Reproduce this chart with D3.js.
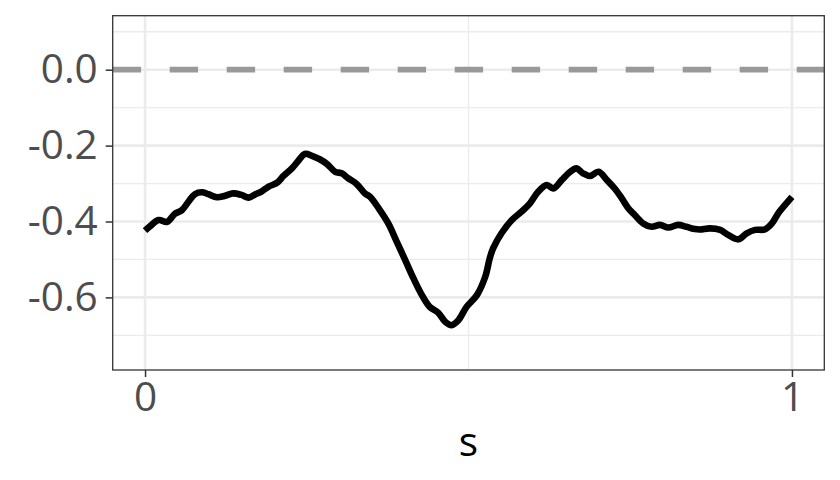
<!DOCTYPE html>
<html>
<head>
<meta charset="utf-8">
<script src="https://cdn.jsdelivr.net/npm/d3@7"></script>
<style>
  html, body { margin: 0; padding: 0; background: #fff; }
  svg { display: block; font-family: "Open Sans", sans-serif; }
</style>
</head>
<body>
<svg id="chart" width="840" height="480"></svg>
<script>
// ---- data ----
const sValues = [0.000,0.008,0.021,0.034,0.046,0.057,0.067,0.077,0.088,0.098,0.111,0.124,0.136,0.149,0.160,0.170,0.180,0.191,0.204,0.214,0.227,0.237,0.247,0.258,0.270,0.281,0.294,0.304,0.314,0.327,0.340,0.348,0.361,0.376,0.389,0.402,0.415,0.428,0.440,0.453,0.464,0.474,0.484,0.497,0.513,0.526,0.533,0.538,0.551,0.567,0.582,0.595,0.608,0.621,0.631,0.644,0.657,0.667,0.677,0.688,0.701,0.714,0.726,0.737,0.747,0.757,0.770,0.783,0.796,0.809,0.824,0.837,0.850,0.858,0.873,0.889,0.902,0.917,0.930,0.943,0.958,0.969,0.979,0.989,1.000];
const fValues = [-0.424,-0.412,-0.396,-0.401,-0.380,-0.370,-0.348,-0.328,-0.323,-0.328,-0.336,-0.332,-0.326,-0.330,-0.337,-0.329,-0.321,-0.308,-0.298,-0.280,-0.260,-0.240,-0.222,-0.227,-0.236,-0.248,-0.269,-0.273,-0.286,-0.301,-0.326,-0.335,-0.365,-0.405,-0.453,-0.501,-0.550,-0.594,-0.625,-0.640,-0.664,-0.673,-0.661,-0.625,-0.594,-0.545,-0.496,-0.471,-0.431,-0.396,-0.374,-0.352,-0.321,-0.304,-0.313,-0.291,-0.269,-0.260,-0.273,-0.280,-0.269,-0.291,-0.313,-0.339,-0.365,-0.383,-0.405,-0.414,-0.409,-0.416,-0.409,-0.414,-0.420,-0.421,-0.418,-0.422,-0.436,-0.447,-0.431,-0.422,-0.421,-0.405,-0.378,-0.357,-0.335];
const refLine = 0;
const xTicks = [0, 1];
const xTickLabels = ["0", "1"];
const xMinor = [0.5];
const yTicks = [0, -0.2, -0.4, -0.6];
const yTickLabels = ["0.0", "-0.2", "-0.4", "-0.6"];
const yMinor = [0.1, -0.1, -0.3, -0.5, -0.7];
const xTitle = "s";

// ---- layout ----
const svg = d3.select("#chart");
const panel = {left: 112.7, right: 824.3, top: 15.7, bottom: 370};
const x = d3.scaleLinear().domain([-0.05, 1.05]).range([panel.left, panel.right]);
const y = d3.scaleLinear().domain([-0.7913, 0.1423]).range([panel.bottom, panel.top]);
const FS = 40.5;

svg.append("rect").attr("x", panel.left).attr("y", panel.top)
  .attr("width", panel.right - panel.left).attr("height", panel.bottom - panel.top)
  .attr("fill", "#fff");

const grid = svg.append("g");
grid.selectAll(".ymin").data(yMinor).join("line")
  .attr("x1", panel.left).attr("x2", panel.right)
  .attr("y1", d => y(d)).attr("y2", d => y(d))
  .attr("stroke", "#EBEBEB").attr("stroke-width", 1.3);
grid.selectAll(".xmin").data(xMinor).join("line")
  .attr("y1", panel.top).attr("y2", panel.bottom)
  .attr("x1", d => x(d)).attr("x2", d => x(d))
  .attr("stroke", "#EBEBEB").attr("stroke-width", 1.3);
grid.selectAll(".ymaj").data(yTicks).join("line")
  .attr("x1", panel.left).attr("x2", panel.right)
  .attr("y1", d => y(d)).attr("y2", d => y(d))
  .attr("stroke", "#EBEBEB").attr("stroke-width", 2.6);
grid.selectAll(".xmaj").data(xTicks).join("line")
  .attr("y1", panel.top).attr("y2", panel.bottom)
  .attr("x1", d => x(d)).attr("x2", d => x(d))
  .attr("stroke", "#EBEBEB").attr("stroke-width", 2.6);

svg.append("line")
  .attr("x1", panel.left).attr("x2", panel.right)
  .attr("y1", y(refLine)).attr("y2", y(refLine))
  .attr("stroke", "#999999").attr("stroke-width", 5.8)
  .attr("stroke-dasharray", "28.4 28.6");

const pts = sValues.map((s, i) => [s, fValues[i]]);
const line = d3.line().x(d => x(d[0])).y(d => y(d[1])).curve(d3.curveCatmullRom.alpha(0.5));
svg.append("path").datum(pts)
  .attr("d", line)
  .attr("fill", "none").attr("stroke", "#000").attr("stroke-width", 6.6)
  .attr("stroke-linejoin", "round").attr("stroke-linecap", "butt");

svg.append("rect").attr("x", panel.left).attr("y", panel.top)
  .attr("width", panel.right - panel.left).attr("height", panel.bottom - panel.top)
  .attr("fill", "none").attr("stroke", "#333333").attr("stroke-width", 1.3);

const yAxis = d3.axisLeft(y).tickValues(yTicks)
  .tickFormat((d, i) => yTickLabels[i]).tickSize(7).tickPadding(8);
const gy = svg.append("g").attr("transform", `translate(${panel.left},0)`).call(yAxis);
gy.select(".domain").remove();
gy.selectAll(".tick line").attr("stroke", "#333333").attr("stroke-width", 1.5);
gy.selectAll(".tick text").attr("fill", "#4D4D4D").attr("font-size", FS)
  .attr("font-family", "'Open Sans', sans-serif");

const xAxis = d3.axisBottom(x).tickValues(xTicks)
  .tickFormat((d, i) => xTickLabels[i]).tickSize(7).tickPadding(5);
const gx = svg.append("g").attr("transform", `translate(0,${panel.bottom})`).call(xAxis);
gx.select(".domain").remove();
gx.selectAll(".tick line").attr("stroke", "#333333").attr("stroke-width", 1.5);
gx.selectAll(".tick text").attr("fill", "#4D4D4D").attr("font-size", FS)
  .attr("font-family", "'Open Sans', sans-serif");

svg.append("text").attr("x", (panel.left + panel.right) / 2).attr("y", 456)
  .attr("text-anchor", "middle").attr("font-size", FS).attr("fill", "#000")
  .text(xTitle);
</script>
</body>
</html>
